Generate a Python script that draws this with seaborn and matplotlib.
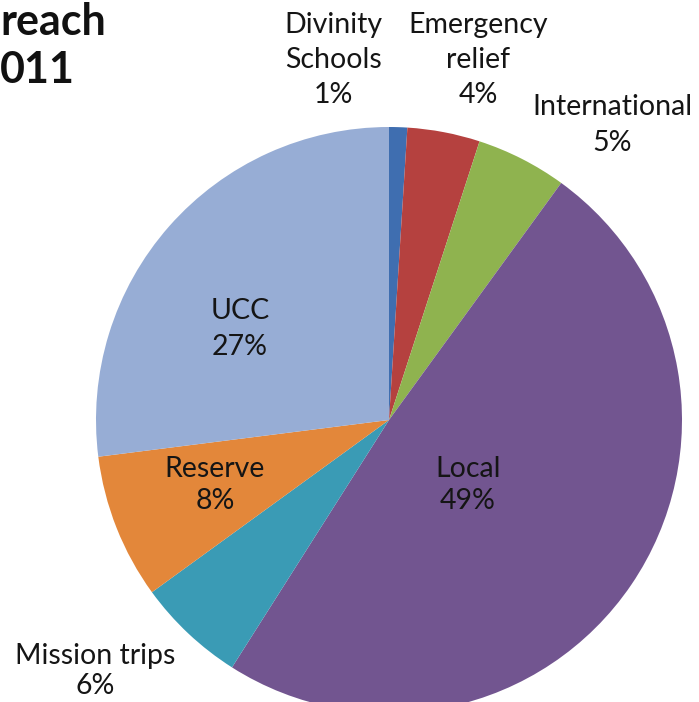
import numpy as np
import matplotlib
matplotlib.use('Agg')
import matplotlib.pyplot as plt
import seaborn as sns

# Outreach spending shares (percent)
categories = ['Divinity Schools', 'Emergency relief', 'International', 'Local',
              'Mission trips', 'Reserve', 'UCC']
label_names = ['Divinity\nSchools', 'Emergency\nrelief', 'International', 'Local',
               'Mission trips', 'Reserve', 'UCC']
shares = [1, 4, 5, 49, 6, 8, 27]
colors = ['#3F6EB0', '#B5413F', '#8FB34F', '#725590', '#3A9BB5', '#E3873A', '#97ADD5']

sns.set_style('white')
plt.rcParams['font.family'] = ['Lato', 'DejaVu Sans']

fig = plt.figure(figsize=(6.99, 7.02), dpi=100)
ax = fig.add_axes([0, 0, 1, 1])

# pie centre at pixel (389, 420), radius 293 px
R = 293.0
cx, cy = 389.0, 420.0
wedges, _ = ax.pie(shares, colors=colors, startangle=90, counterclock=False,
                   radius=1.0, wedgeprops=dict(linewidth=0))

ax.set_xlim(-cx / R, (699 - cx) / R)
ax.set_ylim((cy - 702) / R, cy / R)
ax.set_aspect('auto')
ax.axis('off')

# label positions in pixels (centre of text block) and line spacing
label_px = [(333, 60), (478, 60), (612, 125), (468, 485),
            (95, 671), (215, 485), (240, 329)]
spacing = [1.45, 1.45, 1.45, 1.25, 1.2, 1.25, 1.45]
for name, val, (px, py), ls in zip(label_names, shares, label_px, spacing):
    ax.text((px - cx) / R, (cy - py) / R, f'{name}\n{val}%', ha='center', va='center',
            fontsize=20.5, color='#151515', linespacing=ls)

fig.text(0 / 699, 1 - 22 / 702, 'reach', ha='left', va='center',
         fontsize=31, fontweight='bold', color='#111111')
fig.text(0 / 699, 1 - 70 / 702, '011', ha='left', va='center',
         fontsize=31, fontweight='bold', color='#111111')

fig.savefig('out.png', dpi=100, facecolor='white')
